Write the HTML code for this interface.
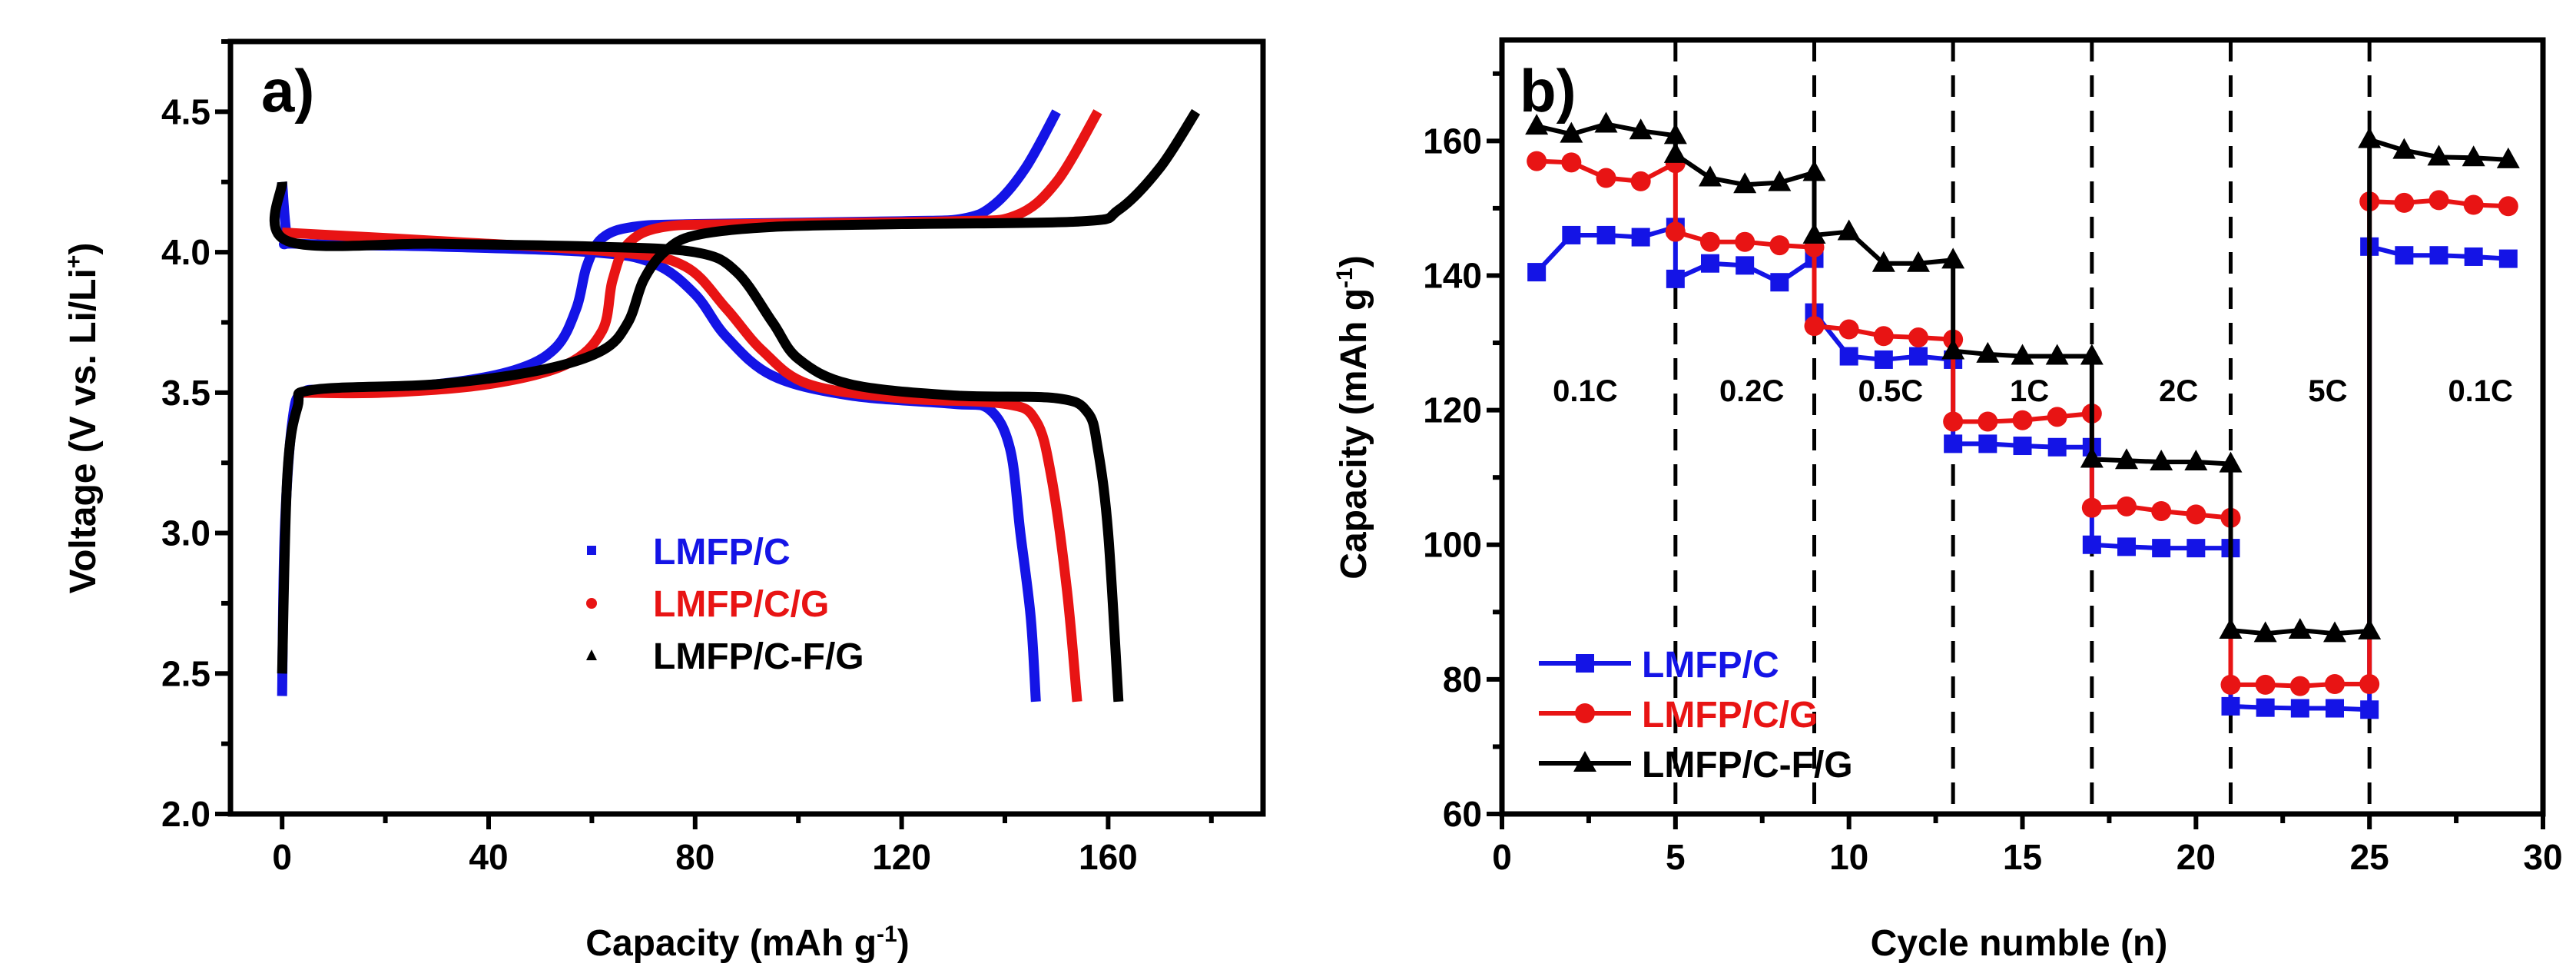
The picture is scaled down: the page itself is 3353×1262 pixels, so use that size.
<!DOCTYPE html>
<html><head><meta charset="utf-8">
<style>
html,body{margin:0;padding:0;background:#fff;}
svg{display:block;font-family:"Liberation Sans",Arial,sans-serif;font-weight:bold;}
</style></head>
<body>
<svg id="fig" width="3353" height="1262" viewBox="0 0 3353 1262" xmlns="http://www.w3.org/2000/svg">
<rect x="0" y="0" width="3353" height="1262" fill="#fff"/>
<g id="pa"></g>
<g id="pb"></g>
</svg>
<script>
// ---------- Panel a data (capacity mAh/g, voltage V) ----------
const blueChargeCap = [0,0.5,2,4,10,30,45,53,57,59,62,68,80,120,132,138,144,150];
const blueChargeV   = [2.42,3.0,3.4,3.5,3.51,3.53,3.58,3.66,3.8,3.95,4.05,4.09,4.1,4.11,4.12,4.17,4.3,4.5];
const blueDisCap = [0,1,3,30,60,72,80,86,95,110,130,137,141,143,145,146];
const blueDisV   = [4.25,4.05,4.03,4.02,4.0,3.96,3.85,3.7,3.56,3.49,3.46,3.44,3.3,3.0,2.7,2.4];
const redChargeCap = [4,20,40,55,62,64,67,74,90,130,142,150,158];
const redChargeV   = [3.5,3.5,3.53,3.6,3.72,3.9,4.03,4.09,4.1,4.11,4.13,4.25,4.5];
const redDisCap = [0,30,65,78,86,93,102,120,140,146,149,152,154];
const redDisV   = [4.07,4.04,4.0,3.95,3.8,3.65,3.53,3.48,3.46,3.4,3.2,2.8,2.4];
const blackChargeCap = [0,1,3,6,30,50,62,67,70,74,80,95,120,155,162,170,177];
const blackChargeV   = [2.5,3.2,3.45,3.51,3.53,3.58,3.65,3.75,3.9,4.0,4.06,4.09,4.1,4.11,4.15,4.3,4.5];
const blackDisCap = [0,1,30,60,80,88,95,100,110,130,150,156,158,160,162];
const blackDisV   = [4.25,4.04,4.03,4.02,4.0,3.93,3.75,3.62,3.53,3.49,3.48,3.43,3.3,3.0,2.4];
const aXTicks = [0,40,80,120,160];
const aYTicks = [2.0,2.5,3.0,3.5,4.0,4.5];

// ---------- Panel b data ----------
const cycles = [1,2,3,4,5, 5,6,7,8,9, 9,10,11,12,13, 13,14,15,16,17, 17,18,19,20,21, 21,22,23,24,25, 25,26,27,28,29];
const capC   = [140.5,146,146,145.7,147.2, 139.5,141.8,141.5,139,142.5, 134.5,128,127.5,128,127.5, 115,115,114.7,114.5,114.5, 100,99.7,99.5,99.5,99.5, 76,75.8,75.7,75.7,75.5, 144.3,143,143,142.8,142.5];
const capCG  = [157,156.8,154.5,154,156.7, 146.5,145,145,144.5,144.2, 132.5,132,131,130.8,130.5, 118.3,118.3,118.5,119,119.5, 105.5,105.7,105,104.5,104, 79.2,79.2,79,79.3,79.3, 151,150.8,151.2,150.5,150.3];
const capCFG = [162.2,161,162.5,161.5,160.8, 158,154.5,153.5,153.8,155.3, 146,146.5,141.8,141.8,142.3, 128.8,128.3,128,128,128, 112.7,112.5,112.3,112.3,112, 87.3,86.8,87.3,86.8,87.2, 160.2,158.6,157.6,157.5,157.2];
const rateLabels = ["0.1C","0.2C","0.5C","1C","2C","5C","0.1C"];
const rateCenters = [2.4,7.2,11.2,15.2,19.5,23.8,28.2];
const dividers = [5,9,13,17,21,25];
const bXTicks = [0,5,10,15,20,25,30];
const bYTicks = [60,80,100,120,140,160];

const NS="http://www.w3.org/2000/svg";
function mk(tag,attrs,parent){const e=document.createElementNS(NS,tag);for(const k in attrs)e.setAttribute(k,attrs[k]);parent.appendChild(e);return e;}

// ---------- Panel a ----------
const pa=document.getElementById('pa');
const aL=300,aR=1644,aT=54,aB=1059;
const ax=v=>aL+(v+10)/200*(aR-aL);
const ay=v=>aB-(v-2.0)/2.75*(aB-aT);
function smoothPath(xs,ys,fx,fy){
  const p=xs.map((x,i)=>[fx(x),fy(ys[i])]);
  let d="M"+p[0][0]+","+p[0][1];
  for(let i=0;i<p.length-1;i++){
    const p0=p[Math.max(0,i-1)],p1=p[i],p2=p[i+1],p3=p[Math.min(p.length-1,i+2)];
    const c1=[p1[0]+(p2[0]-p0[0])/6,p1[1]+(p2[1]-p0[1])/6];
    const c2=[p2[0]-(p3[0]-p1[0])/6,p2[1]-(p3[1]-p1[1])/6];
    d+=" C"+c1[0]+","+c1[1]+" "+c2[0]+","+c2[1]+" "+p2[0]+","+p2[1];
  }
  return d;
}
const aSeries=[
  [blueChargeCap,blueChargeV,"#1414e6","blue-charge-curve"],
  [blueDisCap,blueDisV,"#1414e6","blue-discharge-curve"],
  [redChargeCap,redChargeV,"#e81414","red-charge-curve"],
  [redDisCap,redDisV,"#e81414","red-discharge-curve"],
  [blackChargeCap,blackChargeV,"#000","black-charge-curve"],
  [blackDisCap,blackDisV,"#000","black-discharge-curve"]];
aSeries.forEach(s=>{
  const e=mk('path',{d:smoothPath(s[0],s[1],ax,ay),fill:"none",stroke:s[2],"stroke-width":13,"stroke-linejoin":"round"},pa);
  
  
});
const fa=mk('rect',{x:aL,y:aT,width:aR-aL,height:aB-aT,fill:"none",stroke:"#000","stroke-width":7},pa);


for(let v=0;v<=180;v+=20){
  const major=v%40===0;
  mk('line',{x1:ax(v),x2:ax(v),y1:aB,y2:aB+(major?20:12),stroke:"#000","stroke-width":6},pa);
}
aXTicks.forEach(v=>{
  const t=mk('text',{x:ax(v),y:aB+72,"text-anchor":"middle","font-size":46},pa);t.textContent=v;
  
  
});
for(let v=2.0;v<=4.751;v+=0.25){
  const major=Math.abs(v*2-Math.round(v*2))<1e-6;
  mk('line',{x1:aL,x2:aL-(major?20:12),y1:ay(v),y2:ay(v),stroke:"#000","stroke-width":6},pa);
}
aYTicks.forEach(v=>{
  const t=mk('text',{x:aL-26,y:ay(v)+16,"text-anchor":"end","font-size":46},pa);t.textContent=v.toFixed(1);
  
  
});
let t=mk('text',{x:340,y:145,"font-size":78},pa);t.textContent="a)";

t=mk('text',{x:973,y:1243,"text-anchor":"middle","font-size":48},pa);
t.innerHTML='Capacity (mAh g<tspan dy="-18" font-size="30">-1</tspan><tspan dy="18">)</tspan>';

t=mk('text',{x:0,y:0,"text-anchor":"middle","font-size":48,transform:"translate(124,544) rotate(-90)"},pa);
t.innerHTML='Voltage (V vs. Li/Li<tspan dy="-18" font-size="30">+</tspan><tspan dy="18">)</tspan>';

const legA=[["LMFP/C","#1414e6","sq"],["LMFP/C/G","#e81414","ci"],["LMFP/C-F/G","#000","tr"]];
legA.forEach((l,i)=>{
  const y=717+i*68;
  let m;
  if(l[2]==="sq") m=mk('rect',{x:764,y:y-7,width:12,height:12,fill:l[1]},pa);
  else if(l[2]==="ci") m=mk('circle',{cx:770,cy:y,r:7,fill:l[1]},pa);
  else m=mk('polygon',{points:`770,${y-8} 777,${y+6} 763,${y+6}`,fill:l[1]},pa);
  
  
  const tx=mk('text',{x:850,y:y+17,"font-size":48,fill:l[1]},pa);tx.textContent=l[0];
  
  
});

// ---------- Panel b ----------
const pb=document.getElementById('pb');
const bL=1955,bR=3310,bT=52,bB=1059;
const bx=v=>bL+v/30*(bR-bL);
const by=v=>bB-(v-60)/115*(bB-bT);
dividers.forEach(d=>{
  const e=mk('line',{x1:bx(d),x2:bx(d),y1:bT,y2:bB,stroke:"#000","stroke-width":5,"stroke-dasharray":"28,18"},pb);
  
  
});
rateLabels.forEach((r,i)=>{
  const e=mk('text',{x:bx(rateCenters[i]),y:522,"text-anchor":"middle","font-size":40},pb);e.textContent=r;
  
  
});
const bSeries=[[capC,"#1414e6","sq","series-lmfp-c"],[capCG,"#e81414","ci","series-lmfp-c-g"],[capCFG,"#000","tr","series-lmfp-c-f-g"]];
function marker(kind,x,y,col,parent){
  if(kind==="sq") return mk('rect',{x:x-12,y:y-12,width:24,height:24,fill:col},parent);
  if(kind==="ci") return mk('circle',{cx:x,cy:y,r:13,fill:col},parent);
  return mk('polygon',{points:`${x},${y-16} ${x+15},${y+11} ${x-15},${y+11}`,fill:col},parent);
}
bSeries.forEach(s=>{
  const g=mk('g',{},pb);
  
  
  const pts=cycles.map((c,i)=>bx(c)+","+by(s[0][i])).join(" ");
  mk('polyline',{points:pts,fill:"none",stroke:s[1],"stroke-width":6,"stroke-linejoin":"round"},g);
  cycles.forEach((c,i)=>{
    const m=marker(s[2],bx(c),by(s[0][i]),s[1],g);
    
    
  });
});
const fb=mk('rect',{x:bL,y:bT,width:bR-bL,height:bB-bT,fill:"none",stroke:"#000","stroke-width":7},pb);


for(let v=0;v<=30;v+=2.5){
  const major=v%5===0;
  mk('line',{x1:bx(v),x2:bx(v),y1:bB,y2:bB+(major?20:12),stroke:"#000","stroke-width":6},pb);
}
bXTicks.forEach(v=>{
  const e=mk('text',{x:bx(v),y:bB+72,"text-anchor":"middle","font-size":46},pb);e.textContent=v;
  
  
});
for(let v=60;v<=175;v+=10){
  const major=v%20===0;
  mk('line',{x1:bL,x2:bL-(major?20:12),y1:by(v),y2:by(v),stroke:"#000","stroke-width":6},pb);
}
bYTicks.forEach(v=>{
  const e=mk('text',{x:bL-26,y:by(v)+16,"text-anchor":"end","font-size":46},pb);e.textContent=v;
  
  
});
t=mk('text',{x:1978,y:145,"font-size":78},pb);t.textContent="b)";

t=mk('text',{x:2628,y:1243,"text-anchor":"middle","font-size":48},pb);t.textContent="Cycle numble (n)";

t=mk('text',{x:0,y:0,"text-anchor":"middle","font-size":48,transform:"translate(1778,543) rotate(-90)"},pb);
t.innerHTML='Capacity (mAh g<tspan dy="-18" font-size="30">-1</tspan><tspan dy="18">)</tspan>';

const legB=[["LMFP/C","#1414e6","sq"],["LMFP/C/G","#e81414","ci"],["LMFP/C-F/G","#000","tr"]];
legB.forEach((l,i)=>{
  const y=863+i*65;
  const g=mk('g',{},pb);
  
  
  mk('line',{x1:2003,x2:2123,y1:y,y2:y,stroke:l[1],"stroke-width":6},g);
  marker(l[2],2063,y,l[1],g);
  const tx=mk('text',{x:2137,y:y+18,"font-size":48,fill:l[1]},g);tx.textContent=l[0];
});
</script>
</body></html>
